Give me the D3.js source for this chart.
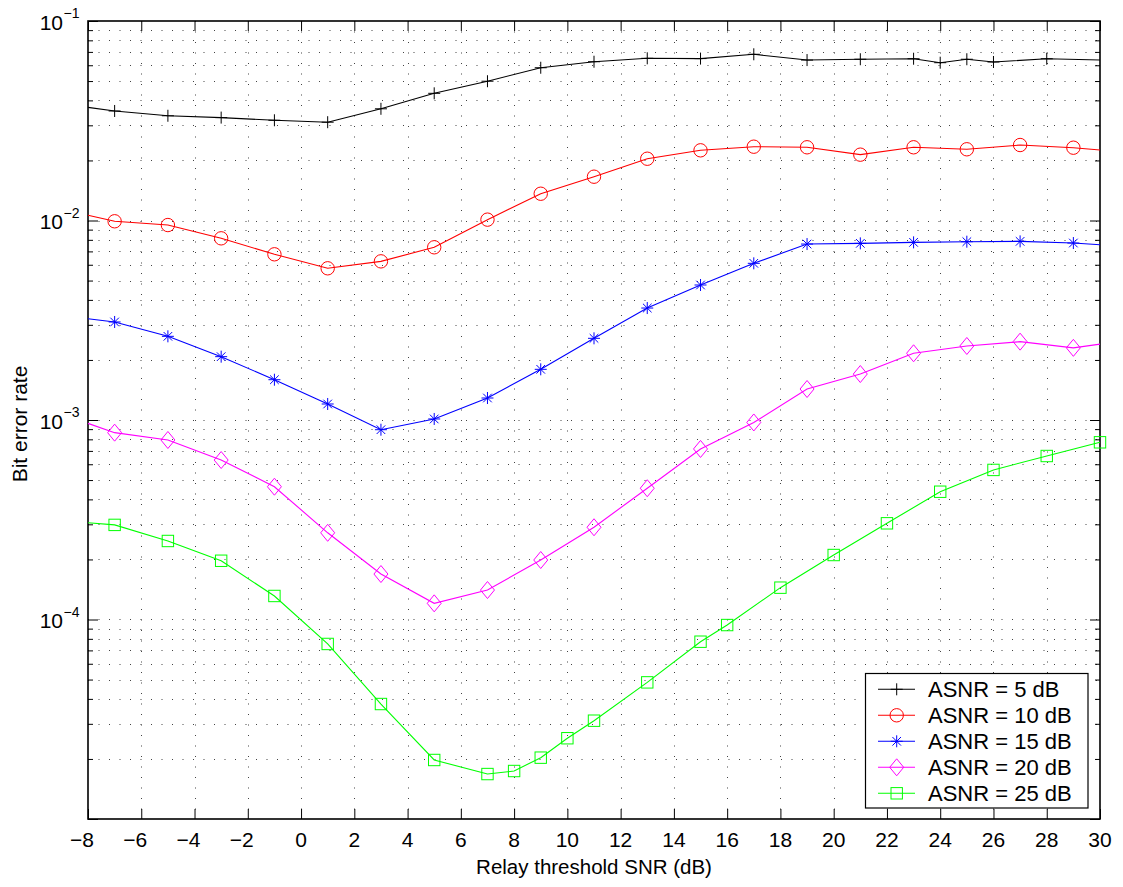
<!DOCTYPE html>
<html><head><meta charset="utf-8">
<script src="https://cdn.jsdelivr.net/npm/d3@7"></script>
<style>
body{margin:0;background:#fff;}
text{font-family:"Liberation Sans",Arial,Helvetica,sans-serif;fill:#000;}
</style>
</head><body>
<svg id="chart" width="1123" height="887"></svg>
<script>
// ---------- data ----------
const seriesNames = ["ASNR = 5 dB", "ASNR = 10 dB", "ASNR = 15 dB", "ASNR = 20 dB", "ASNR = 25 dB"];
const seriesColors = ["#000000", "#ff0000", "#0000ff", "#ff00ff", "#00ff00"];
const seriesMarkers = ["plus", "circle", "star", "diamond", "square"];

const xAsnr5 = [-8, -7, -5, -3, -1, 1, 3, 5, 7, 9, 11, 13, 15, 17, 19, 21, 23, 24, 25, 26, 28, 30];
const yAsnr5 = [0.0369, 0.0354, 0.0335, 0.0328, 0.0318, 0.0311, 0.0363, 0.0434, 0.0499, 0.0583, 0.0625, 0.0650, 0.0648, 0.0681, 0.0637, 0.0643, 0.0647, 0.0618, 0.0643, 0.0623, 0.0647, 0.0637];
const mAsnr5 = [-7, -5, -3, -1, 1, 3, 5, 7, 9, 11, 13, 15, 17, 19, 21, 23, 24, 25, 26, 28];

const xAsnr10 = [-8, -7, -5, -3, -1, 1, 3, 5, 7, 9, 11, 13, 15, 17, 19, 21, 23, 25, 27, 29, 30];
const yAsnr10 = [0.01062, 0.00991, 0.00949, 0.00814, 0.00677, 0.00576, 0.00624, 0.00734, 0.0101, 0.01362, 0.01658, 0.0204, 0.02248, 0.02344, 0.02328, 0.02138, 0.02328, 0.02275, 0.0239, 0.02317, 0.02256];
const mAsnr10 = [-7, -5, -3, -1, 1, 3, 5, 7, 9, 11, 13, 15, 17, 19, 21, 23, 25, 27, 29];

const xAsnr15 = [-8, -7, -5, -3, -1, 1, 3, 5, 7, 9, 11, 13, 15, 17, 19, 21, 23, 25, 27, 29, 30];
const yAsnr15 = [0.00322, 0.0031, 0.002627, 0.002077, 0.001592, 0.001203, 0.000894, 0.001012, 0.001289, 0.001795, 0.002567, 0.003641, 0.00475, 0.0061, 0.00762, 0.00768, 0.00777, 0.00783, 0.00786, 0.00771, 0.00756];
const mAsnr15 = [-7, -5, -3, -1, 1, 3, 5, 7, 9, 11, 13, 15, 17, 19, 21, 23, 25, 27, 29];

const xAsnr20 = [-8, -7, -5, -3, -1, 1, 3, 5, 7, 9, 11, 13, 15, 17, 19, 21, 23, 25, 27, 29, 30];
const yAsnr20 = [0.000962, 0.000864, 0.000794, 0.00063, 0.000463, 0.000272, 0.000169, 0.0001205, 0.0001405, 0.0001987, 0.00029, 0.000455, 0.000716, 0.000972, 0.00143, 0.0017, 0.00216, 0.00235, 0.00247, 0.0023, 0.0024];
const mAsnr20 = [-7, -5, -3, -1, 1, 3, 5, 7, 9, 11, 13, 15, 17, 19, 21, 23, 25, 27, 29];

const xAsnr25 = [-8, -7, -5, -3, -1, 1, 3, 5, 7, 8, 9, 10, 11, 13, 15, 16, 18, 20, 22, 24, 26, 28, 30];
const yAsnr25 = [0.0003057, 0.000298, 0.0002475, 0.000197, 0.0001312, 0.0000754, 0.0000377, 0.00001976, 0.0000168, 0.0000174, 0.0000203, 0.0000254, 0.0000311, 0.0000484, 0.0000774, 0.0000938, 0.0001444, 0.0002105, 0.0003035, 0.000437, 0.000562, 0.00066, 0.000773];
const mAsnr25 = [-7, -5, -3, -1, 1, 3, 5, 7, 8, 9, 10, 11, 13, 15, 16, 18, 20, 22, 24, 26, 28, 30];

const xTicks = [-8, -6, -4, -2, 0, 2, 4, 6, 8, 10, 12, 14, 16, 18, 20, 22, 24, 26, 28, 30];
const yMajorTicks = [1e-5, 1e-4, 1e-3, 1e-2, 1e-1];
const yLabelExponents = [-1, -2, -3, -4];
const xTitle = "Relay threshold SNR (dB)";
const yTitle = "Bit error rate";

// ---------- build ----------
const allX = [xAsnr5, xAsnr10, xAsnr15, xAsnr20, xAsnr25];
const allY = [yAsnr5, yAsnr10, yAsnr15, yAsnr20, yAsnr25];
const allM = [mAsnr5, mAsnr10, mAsnr15, mAsnr20, mAsnr25];
const series = seriesNames.map((name, i) => ({
  name, color: seriesColors[i], marker: seriesMarkers[i],
  points: allX[i].map((xv, j) => [xv, allY[i][j]]),
  markers: allM[i].map(xv => [xv, allY[i][allX[i].indexOf(xv)]])
}));

const L = 88, R = 1100, T = 21, B = 819;
const x = d3.scaleLinear().domain([-8, 30]).range([L, R]);
const y = d3.scaleLog().domain([1e-5, 1e-1]).range([B, T]);

const yMinorTicks = [];
for (let e = -5; e < -1; e++) for (let k = 2; k <= 9; k++) yMinorTicks.push(k * Math.pow(10, e));

const svg = d3.select("#chart");
svg.append("rect").attr("width", 1123).attr("height", 887).attr("fill", "#fff");

// grid
const grid = svg.append("g").attr("stroke", "#444").attr("stroke-width", 1).attr("stroke-dasharray", "1,9.5").attr("fill", "none");
grid.selectAll("line.h").data(yMinorTicks.concat([1e-4, 1e-3, 1e-2])).join("line").attr("class", "h")
  .attr("x1", L).attr("x2", R).attr("y1", d => Math.round(y(d)) + 0.5).attr("y2", d => Math.round(y(d)) + 0.5);
grid.selectAll("line.v").data(xTicks.slice(1, -1)).join("line").attr("class", "v")
  .attr("y1", T).attr("y2", B).attr("x1", d => Math.round(x(d)) + 0.5).attr("x2", d => Math.round(x(d)) + 0.5);

// axes ticks
function styleAxis(g) { g.select(".domain").remove(); g.selectAll("line").attr("stroke", "#000").attr("stroke-width", 1); g.selectAll("text").remove(); }
svg.append("g").attr("transform", `translate(0,${B})`).call(d3.axisBottom(x).tickValues(xTicks).tickSizeInner(-10).tickSizeOuter(0)).call(styleAxis);
svg.append("g").attr("transform", `translate(0,${T})`).call(d3.axisTop(x).tickValues(xTicks).tickSizeInner(-10).tickSizeOuter(0)).call(styleAxis);
svg.append("g").attr("transform", `translate(${L},0)`).call(d3.axisLeft(y).tickValues(yMajorTicks).tickSizeInner(-10).tickSizeOuter(0)).call(styleAxis);
svg.append("g").attr("transform", `translate(${L},0)`).call(d3.axisLeft(y).tickValues(yMinorTicks).tickSizeInner(-5).tickSizeOuter(0)).call(styleAxis);
svg.append("g").attr("transform", `translate(${R},0)`).call(d3.axisRight(y).tickValues(yMajorTicks).tickSizeInner(-10).tickSizeOuter(0)).call(styleAxis);
svg.append("g").attr("transform", `translate(${R},0)`).call(d3.axisRight(y).tickValues(yMinorTicks).tickSizeInner(-5).tickSizeOuter(0)).call(styleAxis);

// frame
svg.append("rect").attr("x", L).attr("y", T).attr("width", R - L).attr("height", B - T)
  .attr("fill", "none").attr("stroke", "#000").attr("stroke-width", 1.6);

// x tick labels: digits centered on tick, minus hanging left
const xl = svg.append("g").attr("font-size", 21);
xTicks.forEach(v => {
  const t = xl.append("text").attr("x", x(v)).attr("y", 847).attr("text-anchor", "middle").text(Math.abs(v));
  if (v < 0) {
    const w = t.node().getComputedTextLength();
    xl.append("text").attr("x", x(v) - w / 2).attr("y", 847).attr("text-anchor", "end").text("\u2212");
  }
});

// y tick labels
const yl = svg.append("g");
yLabelExponents.forEach(e => {
  const py = y(Math.pow(10, e));
  yl.append("text").attr("x", 63).attr("y", py + 8.5).attr("text-anchor", "end").attr("font-size", 21).text("10");
  yl.append("text").attr("x", 63.5).attr("y", py - 3).attr("text-anchor", "start").attr("font-size", 14).text("\u2212" + Math.abs(e));
});

// titles
svg.append("text").attr("x", (L + R) / 2).attr("y", 874).attr("text-anchor", "middle").attr("font-size", 20.5).text(xTitle);
svg.append("text").attr("transform", `translate(27,${(T + B) / 2 + 4}) rotate(-90)`).attr("text-anchor", "middle").attr("font-size", 21).text(yTitle);

// markers
function drawMarker(g, type, color) {
  const s = g.append("g").attr("fill", "none").attr("stroke", color).attr("stroke-width", 1);
  if (type === "plus") s.append("path").attr("d", "M-6,0H6M0,-6V6");
  else if (type === "circle") s.append("circle").attr("r", 6.7);
  else if (type === "star") s.append("path").attr("d", "M-6,0H6M0,-6V6M-4.3,-4.3L4.3,4.3M-4.3,4.3L4.3,-4.3");
  else if (type === "diamond") s.append("path").attr("d", "M0,-8.5L7,0L0,8.5L-7,0Z");
  else if (type === "square") s.append("rect").attr("x", -5.7).attr("y", -5.7).attr("width", 11.4).attr("height", 11.4);
}

const line = d3.line().x(d => x(d[0])).y(d => y(d[1]));
const plot = svg.append("g");
series.forEach(s => {
  plot.append("path").attr("d", line(s.points)).attr("fill", "none").attr("stroke", s.color).attr("stroke-width", 1.1);
  s.markers.forEach(p => {
    const g = plot.append("g").attr("transform", `translate(${x(p[0])},${y(p[1])})`);
    drawMarker(g, s.marker, s.color);
  });
});

// legend
const lg = svg.append("g");
lg.append("rect").attr("x", 865.5).attr("y", 673.5).attr("width", 222.5).attr("height", 134.5)
  .attr("fill", "#fff").attr("stroke", "#000").attr("stroke-width", 1.2);
const rowY = d3.scaleLinear().domain([0, 4]).range([689.3, 793.3]);
series.forEach((s, i) => {
  const cy = rowY(i);
  lg.append("line").attr("x1", 878).attr("x2", 915).attr("y1", cy).attr("y2", cy).attr("stroke", s.color).attr("stroke-width", 1.1);
  drawMarker(lg.append("g").attr("transform", `translate(896.7,${cy})`), s.marker, s.color);
  lg.append("text").attr("x", 928).attr("y", cy + 7.5).attr("font-size", 22).text(s.name);
});
</script>
</body></html>
